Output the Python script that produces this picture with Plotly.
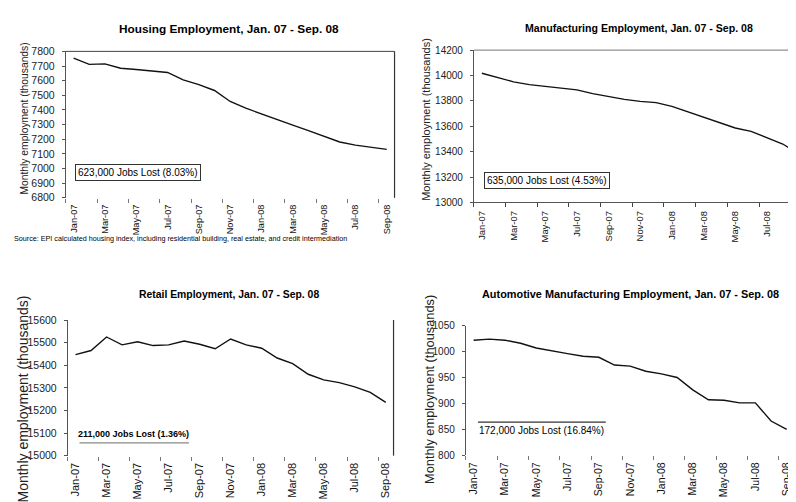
import plotly.graph_objects as go

# ---------------- data ----------------
months = ["Jan-07", "Feb-07", "Mar-07", "Apr-07", "May-07", "Jun-07", "Jul-07",
          "Aug-07", "Sep-07", "Oct-07", "Nov-07", "Dec-07", "Jan-08", "Feb-08",
          "Mar-08", "Apr-08", "May-08", "Jun-08", "Jul-08", "Aug-08", "Sep-08"]
tick_months = months[::2]

housing = [7754, 7711, 7715, 7685, 7676, 7664, 7656, 7605, 7573, 7533, 7458,
           7412, 7372, 7333, 7296, 7259, 7220, 7181, 7160, 7143, 7131]
manufacturing = [14018, 13985, 13950, 13928, 13913, 13900, 13887, 13857, 13832,
                 13812, 13796, 13786, 13757, 13714, 13667, 13624, 13586, 13560,
                 13513, 13460, 13383]
retail = [15447, 15465, 15525, 15490, 15504, 15487, 15490, 15507, 15493, 15473,
          15516, 15490, 15475, 15432, 15407, 15360, 15335, 15323, 15304, 15280,
          15236]
automotive = [1022, 1024, 1022, 1016, 1007, 1001, 996, 991, 989, 974, 972, 962,
              957, 950, 926, 907, 906, 901, 901, 866, 850]

titles = ["Housing Employment, Jan. 07 - Sep. 08",
          "Manufacturing Employment, Jan. 07 - Sep. 08",
          "Retail Employment, Jan. 07 - Sep. 08",
          "Automotive Manufacturing Employment, Jan. 07 - Sep. 08"]
notes = ["623,000 Jobs Lost (8.03%)", "635,000 Jobs Lost (4.53%)",
         "211,000 Jobs Lost (1.36%)", "172,000 Jobs Lost (16.84%)"]
y_title = "Monthly employment (thousands)"
source_text = ("Source: EPI calculated housing index, including residential building, "
               "real estate, and credit intermediation")

# ---------------- layout helpers ----------------
W, H = 796, 502
FONT = "Liberation Sans, Arial, sans-serif"


def fx(px):
    return px / W


def fy(py):
    return 1 - py / H


panels = [
    dict(data=housing, xdom=(58, 388), ydom=(38.3, 188.3), yr=[6800, 7800], dt=100,
         xr=[-0.5, 20.5], xfont=9.2, yfont=10.5, bottomline=False,
         title_pos=(221.7, 15), title_size=11.8,
         yt_pos=(16.7, 107.5), yt_size=10.3,
         note_pos=(0.22, 0.17), note_style="box", note_size=10),
    dict(data=manufacturing, xdom=(467.7, 796), ydom=(37, 193), yr=[13000, 14200], dt=200,
         xr=[-0.5, 20.15], xfont=9.4, yfont=10, bottomline=True,
         title_pos=(633, 14), title_size=10.6,
         yt_pos=(420, 108), yt_size=11,
         note_pos=(0.223, 0.144), note_style="box", note_size=10),
    dict(data=retail, xdom=(60, 387), ydom=(313.5, 452.5), yr=[15000, 15600], dt=100,
         xr=[-0.5, 20.5], xfont=11, yfont=10.5, bottomline=False,
         title_pos=(222, 287.3), title_size=10.4,
         yt_pos=(15, 394), yt_size=14,
         note_pos=(0.203, 0.158), note_style="under", note_size=9,
         line_pos=(0.036, 0.372, 0.095), line_col="#888"),
    dict(data=automotive, xdom=(459.5, 789.5), ydom=(319.3, 452), yr=[800, 1050], dt=50,
         xr=[-0.5, 20.5], xfont=10.5, yfont=10, bottomline=False,
         title_pos=(625, 287.3), title_size=10.9,
         yt_pos=(423.3, 384.5), yt_size=12.8,
         note_pos=(0.23, 0.188), note_style="over", note_size=10,
         line_pos=(0.037, 0.426, 0.256), line_col="#333"),
]

fig = go.Figure()
layout = dict(width=W, height=H, margin=dict(l=0, r=0, t=0, b=0),
              paper_bgcolor="white", plot_bgcolor="white", showlegend=False,
              font=dict(family=FONT, color="#111"))
annotations = []
shapes = []

for i, p in enumerate(panels, start=1):
    sx = "" if i == 1 else str(i)
    xa, ya = "x" + sx, "y" + sx
    fig.add_trace(go.Scatter(x=months, y=p["data"], mode="lines",
                             line=dict(color="#111", width=1.4),
                             xaxis=xa, yaxis=ya, hoverinfo="skip"))
    layout["xaxis" + sx] = dict(
        domain=[fx(p["xdom"][0]), min(1.0, fx(p["xdom"][1]))], anchor=ya,
        type="category", range=p["xr"], tickmode="array", tickvals=tick_months,
        ticktext=tick_months, tickangle=-90, tickson="boundaries",
        ticks="outside", ticklen=4, tickcolor="#777" if not p["bottomline"] else "#444",
        showline=p["bottomline"], linecolor="#555", linewidth=1,
        showgrid=False, zeroline=False, ticklabelstandoff=4,
        tickfont=dict(family=FONT, size=p["xfont"], color="#111"),
        fixedrange=True)
    layout["yaxis" + sx] = dict(
        domain=[fy(p["ydom"][1]), fy(p["ydom"][0])], anchor=xa,
        range=p["yr"], dtick=p["dt"], tick0=p["yr"][0], tickformat="d",
        showline=True, linecolor="#555", linewidth=1,
        ticks="outside", ticklen=3, tickcolor="#555",
        showgrid=False, zeroline=False, ticklabelstandoff=5,
        tickfont=dict(family=FONT, size=p["yfont"], color="#222"),
        fixedrange=True)

    # frame lines (relative to plot domain)
    xd, yd = xa + " domain", ya + " domain"
    if i in (1, 2):
        shapes.append(dict(type="line", xref=xd, yref=yd, x0=0, x1=1, y0=1, y1=1,
                           line=dict(color="#777" if i == 2 else "#444", width=1)))
    if i != 2:
        shapes.append(dict(type="line", xref=xd, yref=yd, x0=1, x1=1, y0=0, y1=1,
                           line=dict(color="#333", width=1.2)))

    # chart title
    annotations.append(dict(
        text="<b>" + titles[i - 1] + "</b>", xref="paper", yref="paper",
        x=fx(p["title_pos"][0]), y=fy(p["title_pos"][1]),
        xanchor="center", yanchor="middle", showarrow=False,
        font=dict(family=FONT, size=p["title_size"], color="#000")))
    # y axis title
    annotations.append(dict(
        text=y_title, xref="paper", yref="paper",
        x=fx(p["yt_pos"][0]), y=fy(p["yt_pos"][1]), textangle=-90,
        xanchor="center", yanchor="middle", showarrow=False,
        font=dict(family=FONT, size=p["yt_size"], color="#222")))
    # jobs-lost note
    note = dict(text=notes[i - 1], xref=xd, yref=yd,
                x=p["note_pos"][0], y=p["note_pos"][1],
                xanchor="center", yanchor="middle", showarrow=False,
                font=dict(family=FONT, size=p["note_size"], color="#000"))
    if p["note_style"] == "box":
        note.update(bordercolor="#333", borderwidth=1, borderpad=2, bgcolor="white")
    else:
        note["text"] = "<b>" + notes[i - 1] + "</b>" if i == 3 else notes[i - 1]
        lp = p["line_pos"]
        shapes.append(dict(type="line", xref=xd, yref=yd, x0=lp[0], x1=lp[1],
                           y0=lp[2], y1=lp[2], line=dict(color=p["line_col"], width=1.3)))
    annotations.append(note)

annotations.append(dict(
    text=source_text, xref="paper", yref="paper", x=fx(4), y=fy(230),
    xanchor="left", yanchor="middle", showarrow=False,
    font=dict(family=FONT, size=7.2, color="#000")))

layout["annotations"] = annotations
layout["shapes"] = shapes
fig.update_layout(**layout)
fig.write_html("out.html")
